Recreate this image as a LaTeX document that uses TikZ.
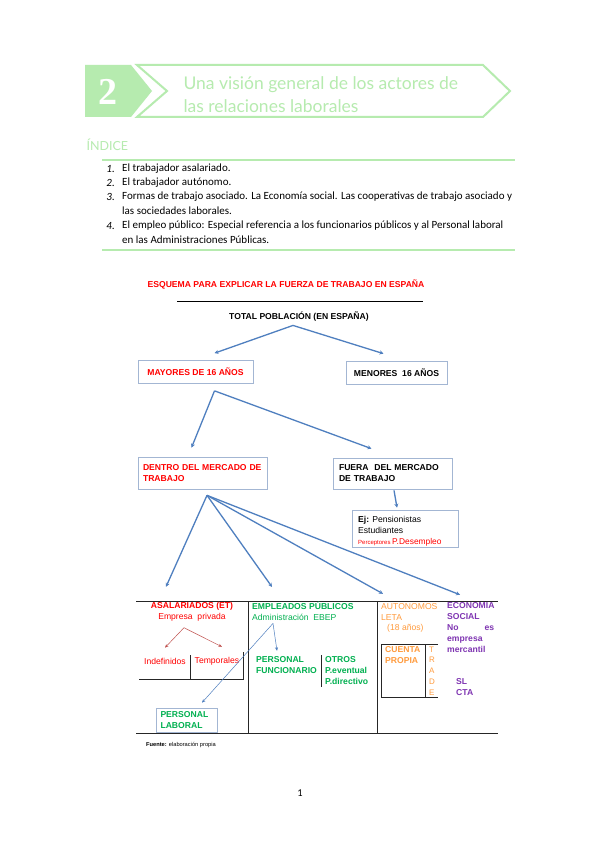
\documentclass[tikz,border=0pt]{standalone}
\usepackage{fontspec}
\setmainfont{Liberation Sans}
\newfontfamily\listfont{Carlito}
\newfontfamily\headfont{Lato}
\newfontfamily\numfont{Liberation Serif}
\usetikzlibrary{arrows.meta,calc}
\definecolor{hgreen}{HTML}{B6EBAF}
\definecolor{vred}{HTML}{FF0000}
\definecolor{vgreen}{HTML}{00B050}
\definecolor{vorange}{HTML}{FF9B3D}
\definecolor{vpurple}{HTML}{7F35B2}
\definecolor{arrblue}{HTML}{4F7FBF}
\definecolor{boxln}{HTML}{A3B6D3}
\definecolor{darkred}{HTML}{C0504D}
\newcommand\cellfont{\fontsize{8.6}{11}\selectfont}
\tikzset{
  box/.style={draw=boxln,line width=0.7pt,fill=white,inner sep=0pt,font=\cellfont\bfseries},
  arr/.style={-{Stealth[length=4pt,width=4pt]},line width=1.3pt,draw=arrblue},
  thinarr/.style={-{Stealth[length=3.5pt,width=3pt]},line width=0.5pt,draw=arrblue},
  redarr/.style={-{Stealth[length=3.5pt,width=3pt]},line width=0.5pt,draw=darkred},
  tab/.style={line width=1pt,draw=black!85},
  subtab/.style={line width=0.8pt,draw=black!85},
  cell/.style={anchor=west,inner sep=0pt,font=\cellfont},
  gline/.style={draw=hgreen,line width=1.2pt},
}

\begin{document}
\begin{tikzpicture}[x=1pt,y=-1pt]
  \useasboundingbox[fill=white] (0,0) rectangle (599,848);

  % cabecera
  \fill[hgreen] (85,65) -- (131,65) -- (152,91) -- (131,117) -- (85,117) -- cycle;
  \node[text=white,font=\numfont\bfseries\fontsize{38}{38}\selectfont] (num) at (108,92) {2};
  \draw[hgreen,line width=2pt] (137,65) -- (483,65) -- (510,91) -- (483,117) -- (137,117) -- (167,91) -- cycle;
  \node[anchor=west,text=hgreen,align=left,font=\headfont\fontsize{17.5}{23}\selectfont] (titulo) at (180,94.5) {Una visión general de los actores de\\las relaciones laborales};

  % indice
  \node[anchor=west,text=hgreen,font=\headfont\fontsize{12.5}{12.5}\selectfont] (indice) at (83,145) {ÍNDICE};
  \draw[gline] (102,160) -- (515,160);
  \draw[gline] (102,250) -- (515,250);
  \foreach \n/\y/\t in {1./169/{El trabajador asalariado.},
                        2./183/{El trabajador autónomo.},
                        3./197/{Formas de trabajo asociado. La Economía social. Las cooperativas de trabajo asociado y},
                        /211/{las sociedades laborales.},
                        4./226/{El empleo público: Especial referencia a los funcionarios públicos y al Personal laboral},
                        /240/{en las Administraciones Públicas.}} {
    \node[anchor=east,inner sep=0pt,font=\listfont\itshape\fontsize{11}{13}\selectfont] at (115,\y) {\n};
    \node[anchor=west,inner sep=0pt,font=\listfont\fontsize{11}{13}\selectfont] at (122,\y) {\t};
  }

  % esquema
  \node[text=vred,font=\bfseries\fontsize{8.6}{10}\selectfont] (esquema) at (286,285) {ESQUEMA PARA EXPLICAR LA FUERZA DE TRABAJO EN ESPAÑA};
  \draw[line width=0.9pt] (177,301) -- (423,301);
  \node[font=\bfseries\fontsize{8.6}{10}\selectfont,inner sep=3.5pt] (total) at (299,317) {TOTAL POBLACIÓN (EN ESPAÑA)};

  \node[box,minimum width=115,minimum height=23,text=vred] (mayores) at (195.5,372) {MAYORES DE 16 AÑOS};
  \node[box,minimum width=101,minimum height=23,text=black] (menores) at (396.5,372.5) {MENORES\ \ 16 AÑOS};
  \node[box,minimum width=129,minimum height=32,text width=119,align=left,inner xsep=5pt,text=vred] (dentro) at (202.5,473) {DENTRO DEL MERCADO DE\\TRABAJO};
  \node[box,minimum width=119,minimum height=31,text width=107,align=left,inner xsep=6pt,text=black] (fuera) at (392.5,473.5) {FUERA\ \ DEL MERCADO\\DE TRABAJO};
  \node[box,minimum width=106,minimum height=37] (ej) at (405,528.5) {};
  \node[cell,font=\fontsize{8.6}{11}\selectfont,align=left] (ejtxt) at (358,531.5)
    {\textbf{Ej:} Pensionistas\\Estudiantes\\{\color{vred}\fontsize{6}{7}\selectfont Perceptores \fontsize{8.4}{9}\selectfont P.Desempleo}};

  \draw[arr] ($(total.south)+(-6,0)$) -- ($(mayores.north)+(19,-7)$);
  \draw[arr] ($(total.south)+(-6,0)$) -- ($(menores.north)+(-13,-7)$);
  \draw[arr] ($(mayores.south)+(19,7)$) -- ($(dentro.north)+(-11,-9)$);
  \draw[arr] ($(mayores.south)+(19,7)$) -- ($(fuera.north)+(-21,-9)$);
  \draw[arr] ($(fuera.south)+(1.5,1)$) -- ($(ej.north)+(-8,-2)$);

  % tabla
  \draw[tab] (136,601) -- (498,601);
  \draw[tab] (136,733) -- (498,733);
  \draw[tab] (248,601) -- (248,733);
  \draw[tab] (377,601) -- (377,733);

  \node[cell,anchor=center,font=\cellfont\bfseries,text=vred] (asal) at (192,606) {ASALARIADOS (ET)};
  \node[cell,anchor=center,text=vred] (privada) at (192,617) {Empresa\ \ privada};
  \node[cell,text=vred] (indef) at (144,661) {Indefinidos};
  \node[cell,text=vred] (temp) at (194.5,661) {Temporales};
  \draw[subtab] (139,679.5) -- (243,679.5) -- (243,652);
  \draw[subtab] (190,655) -- (190,679.5);
  \node[box,minimum width=61,minimum height=24,text width=52,align=left,inner xsep=4.5pt,text=vgreen] (laboral) at (186.5,720) {PERSONAL\\LABORAL};

  \node[cell,font=\cellfont\bfseries,text=vgreen] (empleados) at (252,606) {EMPLEADOS PÚBLICOS};
  \node[cell,text=vgreen] (admin) at (252,617) {Administración\ \ EBEP};
  \node[cell,font=\cellfont\bfseries,text=vgreen,align=left] (funcionario) at (256,665.5) {PERSONAL\\FUNCIONARIO};
  \draw[subtab] (321,655) -- (321,687);
  \node[cell,font=\cellfont\bfseries,text=vgreen,align=left] (otros) at (325,671) {OTROS\\P.eventual\\P.directivo};

  \node[cell,text=vorange,align=left] (autonomos) at (381,611.5) {AUTONOMOS\\LETA};
  \node[cell,text=vorange] (edad) at (387,628) {(18 años)};
  \draw[subtab] (438,644) -- (381,644) -- (381,697) -- (438,697);
  \draw[subtab] (425,644) -- (425,697);
  \node[cell,font=\cellfont\bfseries,text=vorange,align=left] (propia) at (385,655) {CUENTA\\PROPIA};
  \node[cell,text=vorange,align=left,font=\fontsize{8}{10.8}\selectfont] (trade) at (429,671) {T\\R\\A\\D\\E};

  \node[cell,font=\cellfont\bfseries,text=vpurple,align=left] (economia) at (447,628) {ECONOMIA\\SOCIAL\\\makebox[47pt][s]{No\hfill es}\\empresa\\mercantil};
  \node[cell,font=\cellfont\bfseries,text=vpurple,align=left] (sl) at (456,687) {SL\\CTA};

  \draw[arr] ($(dentro.south)+(4.5,6)$) -- ($(asal.north)+(-26,-15)$);
  \draw[arr] ($(dentro.south)+(4.5,6)$) -- ($(empleados.north west)+(20,-15)$);
  \draw[arr] ($(dentro.south)+(4.5,6)$) -- ($(autonomos.north west)+(2,-9)$);
  \draw[arr] ($(dentro.south)+(4.5,6)$) -- ($(economia.north west)+(13,-8)$);

  \draw[redarr] ($(privada.south)+(-8,6.5)$) -- ($(indef.north)+(0,-10)$);
  \draw[redarr] ($(privada.south)+(-8,6.5)$) -- ($(temp.north)+(5,-10)$);
  \draw[thinarr] ($(admin.south west)+(21,3)$) -- ($(funcionario.north west)+(21,-6)$);
  \draw[thinarr] ($(admin.south west)+(21,3)$) -- ($(laboral.north)+(15.5,-5)$);

  \node[anchor=west,inner sep=0pt,font=\fontsize{5.7}{7}\selectfont] (fuente) at (146,745) {\textbf{Fuente:} elaboración propia};
  \node[font=\listfont\fontsize{10.5}{12}\selectfont] (pagina) at (300,793) {1};
\end{tikzpicture}
\end{document}
